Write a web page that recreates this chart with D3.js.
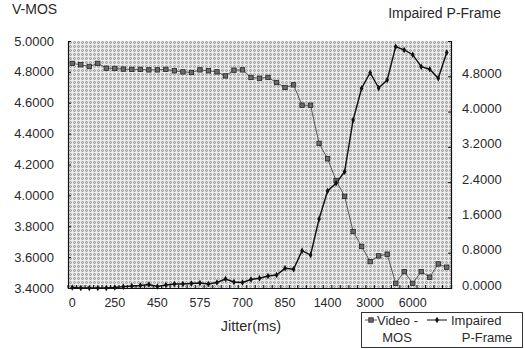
<!DOCTYPE html>
<html>
<head>
<meta charset="utf-8">
<script src="https://cdn.jsdelivr.net/npm/d3@7"></script>
<style>
  body { margin: 0; background: #fff; }
  text { font-family: 'Liberation Sans', Arial, sans-serif; fill: #2a2a2a; }
</style>
</head>
<body>
<div id="chart"></div>
<script>
// jitter categories (only every 5th one gets a label)
var categories = [
    '0','50','100','150','200','250','290','330','370','410',
    '450','475','500','525','550','575','600','625','650','675',
    '700','730','760','790','820','850','960','1070','1180','1290',
    '1400','1720','2040','2360','2680','3000','3600','4200','4800','5400',
    '6000','6500','7000','7500','8000'];

var tickLabels = ['0','250','450','575','700','850','1400','3000','6000'];

// Video - MOS (left axis)
var videoMos = [
    4.855, 4.846, 4.835, 4.855, 4.824, 4.822, 4.818, 4.816, 4.816, 4.813,
    4.813, 4.816, 4.807, 4.800, 4.796, 4.813, 4.807, 4.800, 4.774, 4.811,
    4.813, 4.764, 4.759, 4.764, 4.731, 4.699, 4.716, 4.584, 4.584, 4.337,
    4.237, 4.096, 3.994, 3.766, 3.669, 3.571, 3.608, 3.619, 3.430, 3.506,
    3.430, 3.506, 3.470, 3.556, 3.535];

// Impaired P-Frame (right axis)
var pFrame = [
    0.010, 0.000, 0.000, 0.000, 0.000, 0.010, 0.030, 0.046, 0.057, 0.079,
    0.034, 0.068, 0.090, 0.090, 0.101, 0.112, 0.090, 0.125, 0.203, 0.136,
    0.125, 0.193, 0.220, 0.272, 0.295, 0.446, 0.424, 0.846, 0.748, 1.565,
    2.199, 2.374, 2.636, 3.809, 4.528, 4.881, 4.535, 4.715, 5.471, 5.396,
    5.289, 5.017, 4.960, 4.754, 5.339];

var leftTicks = [3.4, 3.6, 3.8, 4.0, 4.2, 4.4, 4.6, 4.8, 5.0];
var rightTicks = [0, 0.8, 1.6, 2.4, 3.2, 4.0, 4.8];

var W = 525, H = 349;
var pL = 68, pR = 451, pT = 41, pB = 288;

var svg = d3.select('#chart')
    .append('svg')
    .attr('width', W)
    .attr('height', H);

// dithered plot background like the scanned print
var pat = svg.append('defs')
    .append('pattern')
    .attr('id', 'dither')
    .attr('patternUnits', 'userSpaceOnUse')
    .attr('width', 4)
    .attr('height', 4);
pat.append('rect').attr('width', 4).attr('height', 4).attr('fill', '#a2a2a2');
[[1,1],[3,1],[2,2],[1,3],[3,3],[2,0],[0,2]].forEach(function(p){
    pat.append('rect')
    .attr('x', p[0]).attr('y', p[1])
    .attr('width', 1).attr('height', 1)
    .attr('fill', '#d4d4d4');
});
pat.append('rect').attr('x', 0).attr('y', 0).attr('width', 4).attr('height', 1).attr('fill', '#ececec');
pat.append('rect').attr('x', 0).attr('y', 0).attr('width', 1).attr('height', 4).attr('fill', '#ececec');

var x = d3.scaleBand()
    .domain(categories)
    .range([pL, pR]);

var yL = d3.scaleLinear()
    .domain([3.4, 5.0])
    .range([pB, pT]);

var yR = d3.scaleLinear()
    .domain([0, 5.6])
    .range([pB, pT]);

var fmt = d3.format('.4f');

function cx(i){ return x(categories[i]) + x.bandwidth() / 2; }

svg.append('rect')
    .attr('x', pL)
    .attr('y', pT)
    .attr('width', pR - pL)
    .attr('height', pB - pT)
    .attr('fill', 'url(#dither)');

// axes
var axL = svg.append('g')
    .attr('transform', `translate(${pL},0)`)
    .call(d3.axisRight(yL).tickValues(leftTicks).tickSize(3).tickFormat(''));

var axR = svg.append('g')
    .attr('transform', `translate(${pR},0)`)
    .call(d3.axisLeft(yR).tickValues(rightTicks).tickSize(3).tickFormat(''));

var axB = svg.append('g')
    .attr('transform', `translate(0,${pB})`)
    .call(d3.axisTop(x).tickValues(categories).tickSize(3).tickFormat(''));

axB.selectAll('.tick line')
    .attr('transform', `translate(${-x.bandwidth() / 2},0)`);

[axL, axR, axB].forEach(function(a){
    a.select('.domain').attr('stroke', '#111').attr('stroke-width', 1.2);
    a.selectAll('.tick line').attr('stroke', '#111');
});

svg.append('g')
    .selectAll('text')
    .data(leftTicks)
    .enter()
    .append('text')
    .attr('x', 54)
    .attr('y', function(d){ return yL(d) + 4.5; })
    .attr('text-anchor', 'end')
    .attr('font-size', 13)
    .text(function(d){ return fmt(d); });

svg.append('g')
    .selectAll('text')
    .data(rightTicks)
    .enter()
    .append('text')
    .attr('x', 462)
    .attr('y', function(d){ return yR(d) + 1.5; })
    .attr('font-size', 13)
    .text(function(d){ return fmt(d); });

svg.append('g')
    .selectAll('text')
    .data(tickLabels)
    .enter()
    .append('text')
    .attr('x', function(d){ return x(d) + x.bandwidth() / 2; })
    .attr('y', 307)
    .attr('text-anchor', 'middle')
    .attr('font-size', 12.5)
    .text(function(d){ return d; });

svg.append('text')
    .attr('x', 12).attr('y', 14)
    .attr('font-size', 14)
    .text('V-MOS');

svg.append('text')
    .attr('x', 501).attr('y', 18)
    .attr('text-anchor', 'end')
    .attr('font-size', 14)
    .text('Impaired P-Frame');

svg.append('text')
    .attr('x', 251).attr('y', 331)
    .attr('text-anchor', 'middle')
    .attr('font-size', 14.5)
    .text('Jitter(ms)');

// series lines
var lineV = d3.line()
    .x(function(d,i){ return cx(i); })
    .y(function(d){ return yL(d); });

var lineP = d3.line()
    .x(function(d,i){ return cx(i); })
    .y(function(d){ return yR(d); });

svg.append('path')
    .datum(videoMos)
    .attr('d', lineV)
    .attr('fill', 'none')
    .attr('stroke', '#5a5a5a')
    .attr('stroke-width', 1);

svg.append('path')
    .datum(pFrame)
    .attr('d', lineP)
    .attr('fill', 'none')
    .attr('stroke', '#111')
    .attr('stroke-width', 1.4);

svg.append('g')
    .selectAll('rect')
    .data(videoMos)
    .enter()
    .append('rect')
    .attr('x', function(d,i){ return cx(i) - 2.2; })
    .attr('y', function(d){ return yL(d) - 2.2; })
    .attr('width', 4.4)
    .attr('height', 4.4)
    .attr('fill', '#6a6a6a')
    .attr('stroke', '#262626')
    .attr('stroke-width', 0.8);

svg.append('g')
    .selectAll('path')
    .data(pFrame)
    .enter()
    .append('path')
    .attr('d', d3.symbol(d3.symbolDiamond, 12))
    .attr('transform', function(d,i){ return `translate(${cx(i)},${yR(d)})`; })
    .attr('fill', '#111');

// legend
var lg = svg.append('g');

lg.append('rect')
    .attr('x', 361.5).attr('y', 312.5)
    .attr('width', 161).attr('height', 35)
    .attr('fill', '#fff')
    .attr('stroke', '#333')
    .attr('stroke-width', 1);

lg.append('line')
    .attr('x1', 365).attr('x2', 377).attr('y1', 320).attr('y2', 320)
    .attr('stroke', '#5a5a5a');
lg.append('rect')
    .attr('x', 368.8).attr('y', 317.8).attr('width', 4.4).attr('height', 4.4)
    .attr('fill', '#6a6a6a')
    .attr('stroke', '#262626')
    .attr('stroke-width', 0.8);
lg.append('text').attr('x', 377).attr('y', 324.5).attr('font-size', 13).text('Video -');
lg.append('text').attr('x', 397).attr('y', 341.5).attr('text-anchor', 'middle').attr('font-size', 13).text('MOS');

lg.append('line')
    .attr('x1', 427).attr('x2', 447).attr('y1', 320).attr('y2', 320)
    .attr('stroke', '#111');
lg.append('path')
    .attr('d', d3.symbol(d3.symbolDiamond, 12))
    .attr('transform', 'translate(437,320)')
    .attr('fill', '#111');
lg.append('text').attr('x', 451).attr('y', 324.5).attr('font-size', 13).text('Impaired');
lg.append('text').attr('x', 487).attr('y', 341.5).attr('text-anchor', 'middle').attr('font-size', 13).text('P-Frame');
</script>
</body>
</html>
